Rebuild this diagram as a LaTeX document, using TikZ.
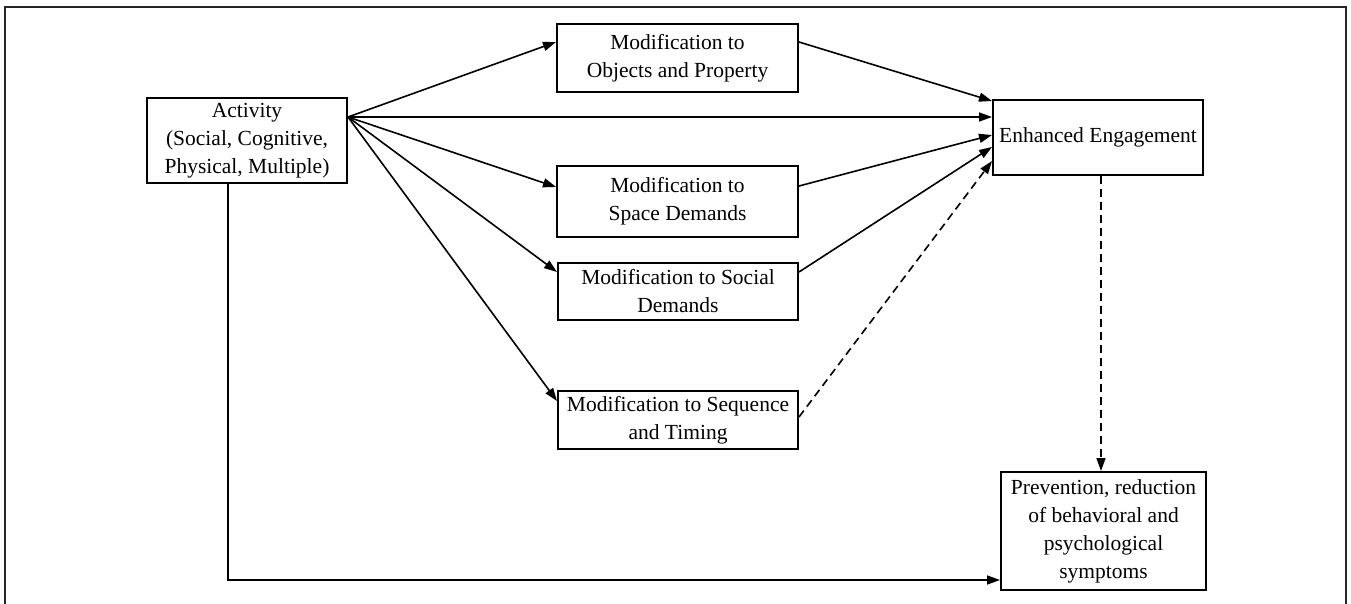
\documentclass[tikz,border=0pt]{standalone}
\usepackage{fontspec}
\setmainfont{Liberation Serif}
\usetikzlibrary{arrows.meta}
\tikzset{
  box/.style={draw=black, line width=2pt, align=center, inner sep=2pt,
    font=\fontsize{21.5}{28}\selectfont},
  conn/.style={line width=1.6pt, -{Triangle[length=13pt,width=9pt]}},
  dconn/.style={conn, dash pattern=on 8pt off 5pt},
}
\begin{document}
\begin{tikzpicture}[x=1pt,y=-1pt]
\useasboundingbox (0,0) rectangle (1351,604);
% outer frame
\draw[line width=1.2pt, black!85] (5,620) -- (5,7) -- (1346,7) -- (1346,620);

\node[box, minimum width=200pt, minimum height=85pt] (act) at (247,140.5)
  {Activity\\(Social, Cognitive,\\Physical, Multiple)};
\node[box, minimum width=241pt, minimum height=68pt] (obj) at (677.5,58)
  {Modification to\\Objects and Property};
\node[box, minimum width=241pt, minimum height=71pt] (spc) at (677.5,201.5)
  {Modification to\\Space Demands};
\node[box, minimum width=240pt, minimum height=57pt] (soc) at (678,291.5)
  {Modification to Social\\Demands};
\node[box, minimum width=240pt, minimum height=58pt] (seq) at (678,420)
  {Modification to Sequence\\and Timing};
\node[box, minimum width=210pt, minimum height=75pt] (ee) at (1098,137.5)
  {Enhanced Engagement};
\node[box, minimum width=205pt, minimum height=118pt] (prev) at (1103.5,531)
  {Prevention, reduction\\of behavioral and\\psychological\\symptoms};

\coordinate (a0) at ([yshift=-20pt]act.north east);

\draw[conn] (a0) -- ([yshift=-19pt]obj.north west);
\draw[conn] (a0) -- (a0 -| ee.west);
\draw[conn] (a0) -- ([yshift=-22pt]spc.north west);
\draw[conn] (a0) -- ([yshift=-10pt]soc.north west);
\draw[conn] (a0) -- ([yshift=-11pt]seq.north west);

\draw[conn] ([yshift=-19pt]obj.north east) -- ([yshift=-2pt]ee.north west);
\draw[conn] ([yshift=-21pt]spc.north east) -- ([yshift=-36pt]ee.north west);
\draw[conn] ([yshift=-10pt]soc.north east) -- ([yshift=-48pt]ee.north west);
\draw[dconn] ([yshift=-27pt]seq.north east) -- ([yshift=-62pt]ee.north west);

\draw[dconn] ([xshift=3pt]ee.south) -- ([xshift=3pt]ee.south |- prev.north);

\draw[conn] ([xshift=-19pt]act.south) |- ([yshift=-49pt]prev.west);
\end{tikzpicture}
\end{document}
